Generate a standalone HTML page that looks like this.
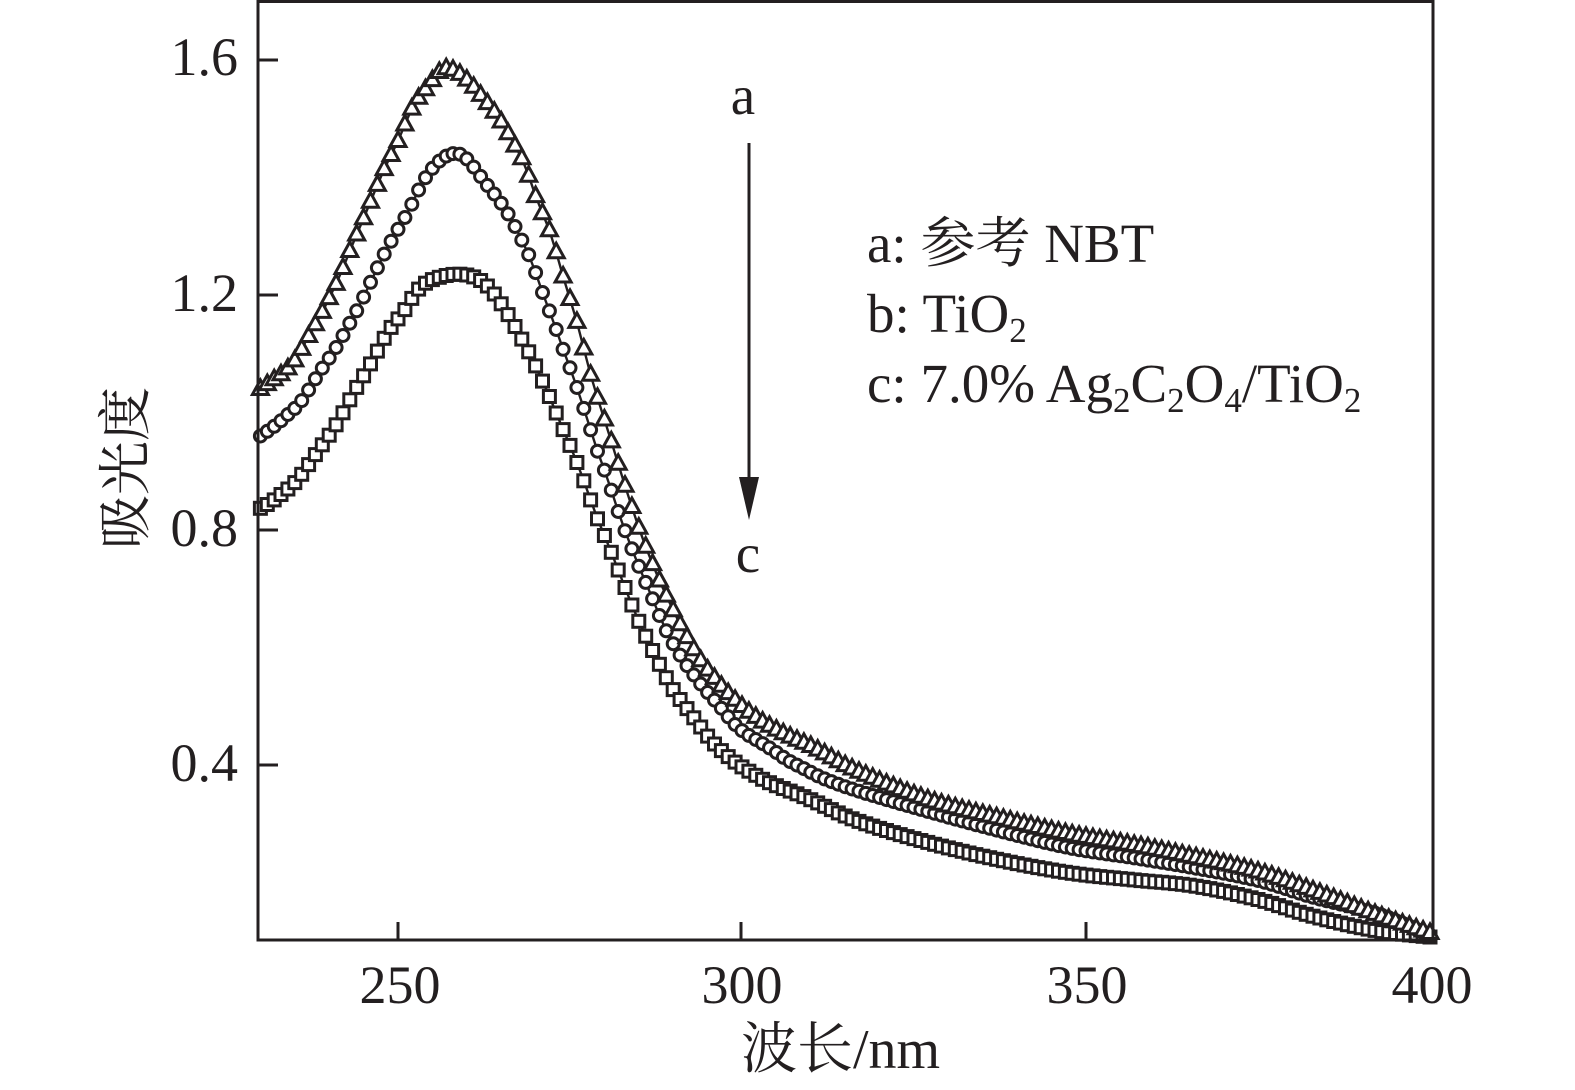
<!DOCTYPE html>
<html>
<head>
<meta charset="utf-8">
<style>
html,body{margin:0;padding:0;background:#fff;}
svg{display:block;}
text{font-family:"Liberation Serif","Noto Serif CJK SC","Noto Sans CJK SC",serif;fill:#231f20;}
</style>
</head>
<body>
<svg id="chart" width="1575" height="1090" viewBox="0 0 1575 1090" xmlns="http://www.w3.org/2000/svg">
  <rect x="0" y="0" width="1575" height="1090" fill="#fff"/>
  <g id="series"></g>
  <!-- frame -->
  <rect x="258" y="1.5" width="1175" height="938.5" fill="none" stroke="#231f20" stroke-width="3"/>
  <!-- ticks -->
  <g stroke="#231f20" stroke-width="3">
    <line x1="258" y1="60" x2="278" y2="60"/>
    <line x1="258" y1="295" x2="278" y2="295"/>
    <line x1="258" y1="530" x2="278" y2="530"/>
    <line x1="258" y1="765" x2="278" y2="765"/>
    <line x1="398" y1="940" x2="398" y2="922"/>
    <line x1="741" y1="940" x2="741" y2="922"/>
    <line x1="1086" y1="940" x2="1086" y2="922"/>
  </g>
  <!-- y tick labels -->
  <g font-size="54" text-anchor="end">
    <text x="238" y="75">1.6</text>
    <text x="238" y="311">1.2</text>
    <text x="238" y="546">0.8</text>
    <text x="238" y="781">0.4</text>
  </g>
  <!-- x tick labels -->
  <g font-size="54" text-anchor="middle">
    <text x="400" y="1003">250</text>
    <text x="742" y="1003">300</text>
    <text x="1087" y="1003">350</text>
    <text x="1432" y="1003">400</text>
  </g>
  <!-- axis titles -->
  <text x="741" y="1068" font-size="56">波长/nm</text>
  <text transform="translate(144,468) rotate(-90)" font-size="54" text-anchor="middle">吸光度</text>
  <!-- arrow -->
  <text x="743" y="114" font-size="55" text-anchor="middle">a</text>
  <line x1="749" y1="143" x2="749" y2="482" stroke="#231f20" stroke-width="3"/>
  <polygon points="739,477 759,477 749,520" fill="#231f20"/>
  <text x="748" y="572" font-size="55" text-anchor="middle">c</text>
  <!-- legend -->
  <g font-size="55">
    <text x="867" y="262">a: 参考 NBT</text>
    <text x="867" y="332">b: TiO<tspan font-size="35" dy="10">2</tspan></text>
    <text x="867" y="402">c: 7.0% Ag<tspan font-size="35" dy="10">2</tspan><tspan dy="-10">C</tspan><tspan font-size="35" dy="10">2</tspan><tspan dy="-10">O</tspan><tspan font-size="35" dy="10">4</tspan><tspan dy="-10">/TiO</tspan><tspan font-size="35" dy="10">2</tspan></text>
  </g>
</svg>
<script>
(function(){
var A=[[259,390],[273,380],[290,367],[303,348],[308,335],[317,323],[328,300],[337,283],[345,263],[353,243],[363,220],[370,203],[378,183],[385,167],[392,153],[400,138],[405,125],[410,108],[420,97],[427,87],[435,77],[440,70],[447,66],[453,70],[460,73],[467,80],[473,85],[480,95],[488,103],[495,113],[503,123],[510,137],[517,150],[525,162],[530,178],[535,198],[543,213],[552,237],[558,257],[565,285],[575,313],[580,332],[585,355],[592,380],[598,400],[607,427],[613,447],[620,470],[627,492],[633,510],[640,532],[648,553],[655,570],[662,587],[670,603],[680,625],[690,642],[698,657],[712,675],[727,692],[743,707],[760,720],[777,730],[793,738],[813,747],[853,769],[930,800],[1000,818],[1070,834],[1135,845],[1195,857],[1260,872],[1312,890],[1378,915],[1430,933]];
var B=[[259,437],[272,428],[280,422],[287,415],[293,410],[302,402],[308,390],[315,380],[322,368],[330,357],[337,347],[343,335],[350,323],[360,305],[367,290],[377,268],[385,253],[390,242],[398,230],[405,217],[412,205],[418,190],[425,178],[433,167],[440,160],[447,155],[453,153],[460,153],[467,158],[473,166],[480,176],[488,186],[495,195],[503,205],[510,217],[517,230],[523,243],[530,256],[537,276],[543,295],[550,313],[558,332],[563,352],[572,370],[578,392],[585,412],[592,433],[598,455],[607,475],[613,495],[618,513],[627,535],[633,552],[640,570],[648,587],[655,605],[662,622],[668,635],[675,647],[682,658],[688,668],[697,678],[703,688],[712,697],[723,710],[733,723],[745,733],[760,742],[773,750],[787,760],[803,768],[820,777],[855,790],[930,812],[1000,831],[1070,848],[1135,858],[1195,868],[1260,881],[1312,897],[1378,914],[1430,935]];
var C=[[259,509],[272,502],[280,495],[287,490],[293,485],[300,477],[307,467],[313,458],[320,448],[328,437],[335,427],[342,415],[348,403],[355,390],[363,377],[370,365],[377,352],[383,340],[390,328],[397,320],[405,311],[410,300],[417,290],[425,283],[433,279],[440,277],[448,275],[455,274],[462,274],[468,275],[475,277],[482,281],[490,288],[497,297],[503,307],[510,317],[517,330],[523,342],[530,353],[536,367],[543,382],[550,398],[557,414],[563,431],[572,448],[578,466],[585,484],[592,503],[598,522],[607,540],[613,557],[620,575],[627,592],[633,608],[640,625],[648,640],[655,657],[662,668],[668,682],[675,693],[683,703],[690,713],[698,723],[705,733],[713,743],[723,752],[732,760],[742,767],[752,773],[760,778],[770,783],[782,788],[805,797],[855,820],[930,843],[1000,860],[1070,873],[1135,880],[1195,886],[1260,900],[1312,916],[1378,931],[1430,937]];
function interp(P,x){
  var n=P.length;
  if(x<=P[0][0])return P[0][1];
  if(x>=P[n-1][0])return P[n-1][1];
  var i=1;while(i<n&&x>P[i][0])i++;
  var p0=P[i-1],p1=P[i];
  function slope(k){
    if(k<=0)return (P[1][1]-P[0][1])/(P[1][0]-P[0][0]);
    if(k>=n-1)return (P[n-1][1]-P[n-2][1])/(P[n-1][0]-P[n-2][0]);
    return (P[k+1][1]-P[k-1][1])/(P[k+1][0]-P[k-1][0]);
  }
  var h=p1[0]-p0[0],t=(x-p0[0])/h;
  var m0=slope(i-1)*h,m1=slope(i)*h;
  var t2=t*t,t3=t2*t;
  return (2*t3-3*t2+1)*p0[1]+(t3-2*t2+t)*m0+(-2*t3+3*t2)*p1[1]+(t3-t2)*m1;
}
function sample(P){
  var pts=[];
  for(var nm=230;nm<=400;nm++){var x=398+(nm-250)*6.88;pts.push([x,interp(P,x)]);}
  var s=[];
  for(var i=0;i<pts.length;i++){
    if(i==0||i==pts.length-1){s.push(pts[i]);continue;}
    s.push([pts[i][0],(pts[i-1][1]+2*pts[i][1]+pts[i+1][1])/4]);
  }
  return s;
}
var NS="http://www.w3.org/2000/svg";
var g=document.getElementById("series");
var col="#231f20";
function el(name,attrs){var e=document.createElementNS(NS,name);for(var k in attrs)e.setAttribute(k,attrs[k]);return e;}
function draw(P,type){
  var s=sample(P);
  var d=s.map(function(p,i){return (i?"L":"M")+p[0].toFixed(1)+" "+p[1].toFixed(1);}).join(" ");
  g.appendChild(el("path",{d:d,fill:"none",stroke:col,"stroke-width":"2.4"}));
  s.forEach(function(p){
    var x=p[0],y=p[1];
    if(type=="sq"){
      g.appendChild(el("rect",{x:(x-6).toFixed(1),y:(y-6).toFixed(1),width:"12",height:"12",fill:"#fff",stroke:col,"stroke-width":"3"}));
    }else if(type=="ci"){
      g.appendChild(el("circle",{cx:x.toFixed(1),cy:y.toFixed(1),r:"6",fill:"#fff",stroke:col,"stroke-width":"3"}));
    }else{
      g.appendChild(el("polygon",{points:x.toFixed(1)+","+(y-9).toFixed(1)+" "+(x+8).toFixed(1)+","+(y+5.5).toFixed(1)+" "+(x-8).toFixed(1)+","+(y+5.5).toFixed(1),fill:"#fff",stroke:col,"stroke-width":"3","stroke-linejoin":"miter"}));
    }
  });
}
draw(C,"sq");
draw(B,"ci");
draw(A,"tr");
})();
</script>
</body>
</html>
